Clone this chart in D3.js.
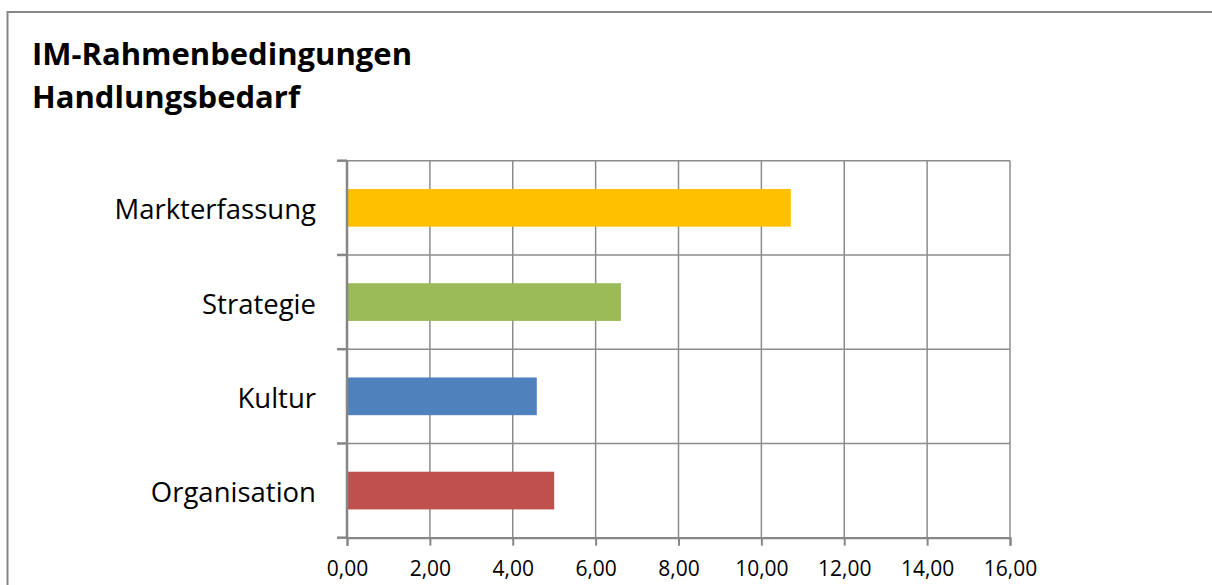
<!DOCTYPE html>
<html>
<head>
<meta charset="utf-8">
<script src="https://cdn.jsdelivr.net/npm/d3@7"></script>
<style>
  body { margin: 0; background: #fff; }
  svg { display: block; font-family: "Open Sans", sans-serif; }
</style>
</head>
<body>
<div id="chart"></div>
<script>
const categories = ["Markterfassung", "Strategie", "Kultur", "Organisation"];
const values = [10.71, 6.61, 4.58, 5.0];
const barColors = ["#FFC000", "#9BBB59", "#4F81BD", "#C0504D"];
const xTicks = [0, 2, 4, 6, 8, 10, 12, 14, 16];
const titleLines = ["IM-Rahmenbedingungen", "Handlungsbedarf"];

const width = 1212, height = 585;
const plot = { left: 347, right: 1010, top: 160.7, bottom: 537.7 };

const svg = d3.select("#chart").append("svg")
  .attr("width", width)
  .attr("height", height);

// outer frame of the chart object
svg.append("rect")
  .attr("x", 7.5).attr("y", 12)
  .attr("width", 1220).attr("height", 600)
  .attr("fill", "#fff")
  .attr("stroke", "#868686")
  .attr("stroke-width", 2);

svg.append("g").selectAll("text")
  .data(titleLines)
  .enter().append("text")
  .attr("x", 32)
  .attr("y", (d, i) => 65 + i * 43)
  .attr("font-size", 31)
  .attr("font-weight", "bold")
  .attr("fill", "#000")
  .text(d => d);

const x = d3.scaleLinear().domain([0, 16]).range([plot.left, plot.right]);
const y = d3.scaleBand().domain(categories).range([plot.top, plot.bottom]);

const grid = svg.append("g");

// vertical gridlines
grid.selectAll(".vgrid")
  .data(xTicks)
  .enter().append("line")
  .attr("x1", d => x(d)).attr("x2", d => x(d))
  .attr("y1", plot.top).attr("y2", plot.bottom)
  .attr("stroke", "#8c8c8c")
  .attr("stroke-width", 1.5);

// horizontal gridlines at category boundaries
const bounds = categories.map(c => y(c)).concat([plot.bottom]);
grid.selectAll(".hgrid")
  .data(bounds)
  .enter().append("line")
  .attr("x1", plot.left).attr("x2", plot.right)
  .attr("y1", d => d).attr("y2", d => d)
  .attr("stroke", "#8c8c8c")
  .attr("stroke-width", 1.5);

// bars
svg.append("g").selectAll("rect")
  .data(categories)
  .enter().append("rect")
  .attr("x", x(0))
  .attr("y", d => y(d) + y.bandwidth() * 0.3)
  .attr("width", (d, i) => x(values[i]) - x(0))
  .attr("height", y.bandwidth() * 0.4)
  .attr("fill", (d, i) => barColors[i]);

// value axis
const xAxis = d3.axisBottom(x)
  .tickValues(xTicks)
  .tickSize(8)
  .tickPadding(15)
  .tickFormat(d => d3.format(".2f")(d).replace(".", ","));

const gx = svg.append("g")
  .attr("transform", `translate(0,${plot.bottom})`)
  .call(xAxis);
gx.select(".domain").attr("stroke", "#868686").attr("stroke-width", 2);
gx.selectAll(".tick line").attr("stroke", "#868686").attr("stroke-width", 2);
gx.selectAll(".tick text")
  .attr("font-size", 21)
  .attr("font-family", "Open Sans, sans-serif")
  .attr("fill", "#000");

// category axis with ticks between categories
const gy = svg.append("g");
gy.append("line")
  .attr("x1", plot.left).attr("x2", plot.left)
  .attr("y1", plot.top).attr("y2", plot.bottom)
  .attr("stroke", "#868686").attr("stroke-width", 2.5);
gy.selectAll(".ytick")
  .data(bounds)
  .enter().append("line")
  .attr("x1", plot.left - 10).attr("x2", plot.left)
  .attr("y1", d => d).attr("y2", d => d)
  .attr("stroke", "#868686").attr("stroke-width", 2.5);
gy.selectAll("text")
  .data(categories)
  .enter().append("text")
  .attr("x", 316)
  .attr("y", d => y(d) + y.bandwidth() / 2 + 2)
  .attr("dy", "0.35em")
  .attr("text-anchor", "end")
  .attr("font-size", 27.5)
  .attr("fill", "#000")
  .text(d => d);
</script>
</body>
</html>
